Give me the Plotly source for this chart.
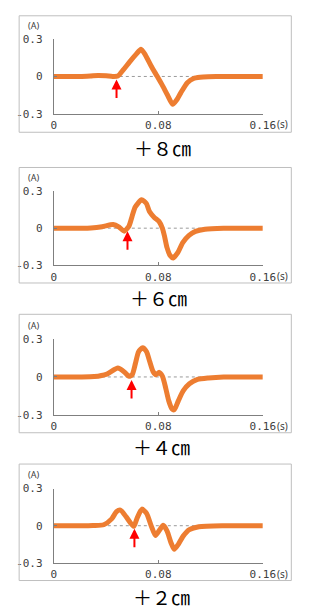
import plotly.graph_objects as go

# ---- data ----
labels = ["＋８㎝", "＋６㎝", "＋４㎝", "＋２㎝"]
arrow_t = [0.048, 0.0564, 0.0595, 0.0617]

t8 = [0, 0.01, 0.02, 0.028, 0.034, 0.040, 0.045, 0.049, 0.0533, 0.0582, 0.0631, 0.0667, 0.070, 0.0745, 0.0789, 0.083, 0.087, 0.091, 0.094, 0.0973, 0.1022, 0.107, 0.112, 0.118, 0.13, 0.145, 0.16]
a8 = [0, 0, 0, 0.004, 0.008, 0.005, 0.0, 0.003, 0.055, 0.12, 0.18, 0.22, 0.175, 0.085, 0.005, -0.07, -0.15, -0.225, -0.19, -0.13, -0.05, -0.016, -0.007, -0.003, 0, 0, 0]

t6 = [0, 0.01, 0.02, 0.0284, 0.037, 0.0454, 0.050, 0.0538, 0.0575, 0.0599, 0.0623, 0.0672, 0.0708, 0.0732, 0.0769, 0.0805, 0.083, 0.0847, 0.0866, 0.089, 0.0914, 0.095, 0.0987, 0.1035, 0.1084, 0.1157, 0.13, 0.145, 0.16]
a6 = [0, 0, 0, 0.002, 0.012, 0.029, 0.008, -0.024, 0.016, 0.095, 0.17, 0.23, 0.2, 0.134, 0.087, 0.055, 0.003, -0.063, -0.155, -0.22, -0.24, -0.195, -0.116, -0.058, -0.026, -0.008, 0, 0, 0]

t4 = [0, 0.01, 0.02, 0.031, 0.0406, 0.049, 0.054, 0.0576, 0.060, 0.0625, 0.0649, 0.068, 0.071, 0.0734, 0.0759, 0.0783, 0.0807, 0.0832, 0.0856, 0.088, 0.0905, 0.0922, 0.0953, 0.099, 0.1038, 0.110, 0.1184, 0.13, 0.145, 0.16]
a4 = [0, 0, 0, 0.003, 0.023, 0.07, 0.039, 0.005, 0.018, 0.108, 0.198, 0.229, 0.198, 0.121, 0.044, 0.018, 0.036, 0.005, -0.085, -0.188, -0.252, -0.258, -0.188, -0.11, -0.054, -0.02, -0.008, 0, 0, 0]

t2 = [0, 0.01, 0.02, 0.03, 0.0382, 0.0443, 0.0479, 0.051, 0.0552, 0.0588, 0.0613, 0.0637, 0.0674, 0.071, 0.0747, 0.0778, 0.0807, 0.0837, 0.0868, 0.0897, 0.0922, 0.0953, 0.099, 0.1038, 0.111, 0.13, 0.145, 0.16]
a2 = [0, 0, 0, 0.002, 0.008, 0.055, 0.113, 0.126, 0.074, 0.021, -0.005, 0.06, 0.134, 0.1, -0.005, -0.079, -0.039, 0.003, -0.045, -0.137, -0.19, -0.15, -0.084, -0.032, -0.008, 0, 0, 0]

series = [(t8, a8), (t6, a6), (t4, a4), (t2, a2)]
y_ticks = [0.3, 0, -0.3]
y_tick_text = ["0.3", "0", "-0.3"]
x_ticks = [0, 0.08, 0.16]
x_tick_text = ["0", "0.08", "0.16"]

# ---- layout geometry (pixels) ----
W, H = 320, 612
plot_x0, plot_x1 = 53.5, 273.5
plot_rows = [(34, 110), (189, 265), (340, 418), (493, 569)]   # (top, bottom)
frame_rows = [(10, 129), (165, 283), (315, 436), (468, 587)]
label_y = [145, 298, 450, 603]
label_x = [168, 164, 167, 167]
frame_x0, frame_x1 = 17, 303.5

def py(p):
    return 1 - p / H

ORANGE = "#ED7D31"
AXIS = "#7f7f7f"
TXT = "#404040"
MONO = "DejaVu Sans Mono"

fig = go.Figure()
layout = dict(width=W, height=H, margin=dict(l=0, r=0, t=0, b=0),
              paper_bgcolor="white", plot_bgcolor="white", showlegend=False)
shapes, annotations = [], []

for i, (tt, aa) in enumerate(series):
    n = "" if i == 0 else str(i + 1)
    xa, ya = "x" + n, "y" + n
    top, bot = plot_rows[i]
    layout["xaxis" + n] = dict(domain=[plot_x0 / W, plot_x1 / W], range=[0, 0.16], anchor=ya,
                               showgrid=False, zeroline=False, showline=True, linecolor=AXIS, linewidth=1,
                               ticks="inside", ticklen=3, tickcolor=AXIS, tickvals=x_ticks, ticktext=x_tick_text,
                               tickfont=dict(family=MONO, size=11, color=TXT), ticklabelstandoff=1)
    layout["yaxis" + n] = dict(domain=[py(bot), py(top)], range=[-0.3, 0.3], anchor=xa,
                               showgrid=False, zeroline=False, showline=True, linecolor=AXIS, linewidth=1,
                               ticks="inside", ticklen=3, tickcolor=AXIS, tickvals=y_ticks, ticktext=y_tick_text,
                               tickfont=dict(family=MONO, size=11, color=TXT), ticklabelstandoff=8)
    # zero dotted line
    shapes.append(dict(type="line", xref=xa, yref=ya, x0=0, x1=0.16, y0=0, y1=0,
                       line=dict(color="#9a9a9a", width=1, dash="dot"), layer="below"))
    # frame
    ft, fb = frame_rows[i]
    shapes.append(dict(type="rect", xref="paper", yref="paper", x0=frame_x0 / W, x1=frame_x1 / W,
                       y0=py(fb), y1=py(ft), line=dict(color="#bfbfbf", width=1)))
    fig.add_trace(go.Scatter(x=tt, y=aa, xaxis=xa, yaxis=ya, mode="lines",
                             line=dict(color=ORANGE, width=5, shape="spline", smoothing=0.6),
                             hoverinfo="skip"))
    # arrow
    annotations.append(dict(xref=xa, yref=ya, x=arrow_t[i], y=0, ax=0, ay=23, axref="pixel", ayref="pixel",
                            showarrow=True, arrowhead=2, arrowsize=1, arrowwidth=2, arrowcolor="#ff0000",
                            standoff=3, text=""))
    # units
    annotations.append(dict(xref="paper", yref="paper", x=32 / W, y=py(top - 14), text="(A)",
                            xanchor="center", yanchor="middle",
                            showarrow=False, font=dict(family="Noto Sans", size=9, color=TXT)))
    annotations.append(dict(xref="paper", yref="paper", x=(plot_x1 + 13) / W, y=py(bot + 11), text="(s)",
                            xanchor="left", yanchor="middle",
                            showarrow=False, font=dict(family="Noto Sans", size=10, color=TXT)))
    # panel label
    annotations.append(dict(xref="paper", yref="paper", x=label_x[i] / W, y=py(label_y[i]), text=labels[i],
                            xanchor="center", yanchor="middle",
                            showarrow=False, font=dict(family="Noto Sans CJK JP", size=19, color="black")))

layout["shapes"] = shapes
layout["annotations"] = annotations
fig.update_layout(**layout)
fig.write_html("out.html", config={"displayModeBar": False},
               post_script="document.body.style.margin='0';document.body.style.overflow='hidden';")
